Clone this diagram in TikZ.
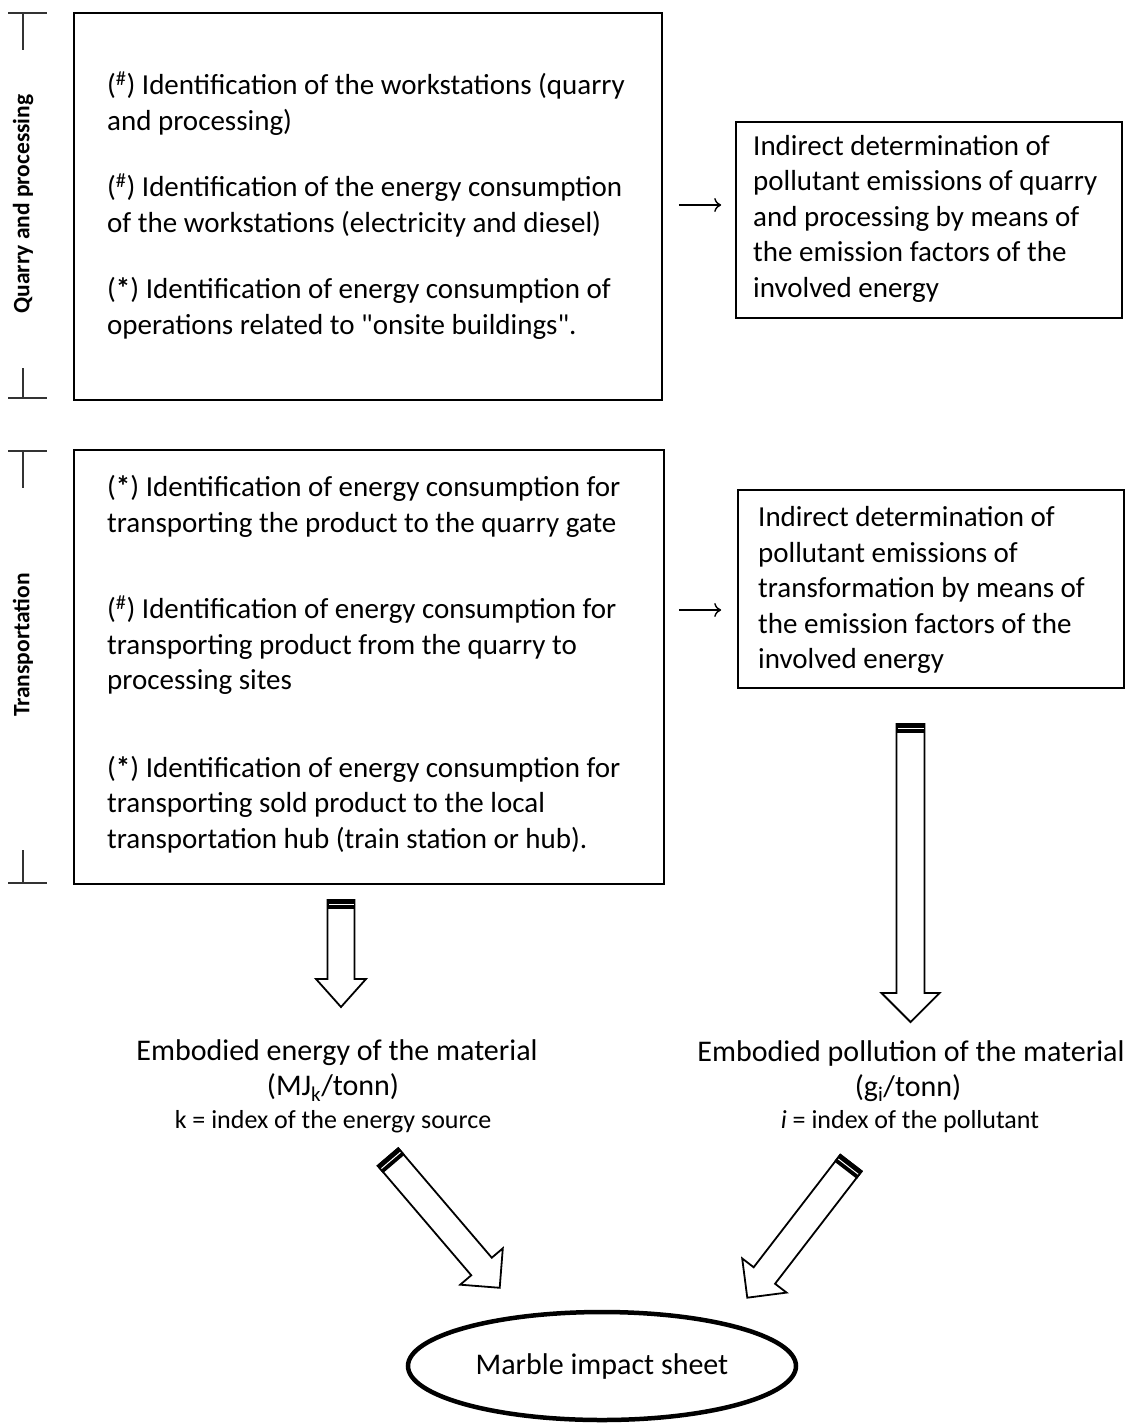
\documentclass[tikz,border=0pt]{standalone}
\usepackage{fontspec}
\setmainfont{Carlito}[Ligatures=TeXOff]
\usetikzlibrary{calc,shapes.geometric,arrows.meta}
\tikzset{
  boxline/.style={draw, line width=1.6pt, anchor=center},
  boxtext/.style={font=\fontsize{29}{35.5}\selectfont, align=left, anchor=west, inner sep=0pt},
  bracket/.style={draw=black!80, line width=1.4pt},
  sidelabel/.style={rotate=90, font=\bfseries\fontsize{23.5}{26}\selectfont},
  smallarrow/.style={line width=1.4pt, -{To[length=7pt,width=14pt]}},
  blockline/.style={draw, line width=1.8pt, fill=white, line join=miter},
  bigtext/.style={font=\fontsize{30}{34}\selectfont},
  idxtext/.style={font=\fontsize{26}{30}\selectfont}
}
\newcommand{\blockarrow}[6]{%
  \begin{scope}[shift={#1},rotate=#2]
    \draw[blockline] (0,-#4) -- ({#3-#6},-#4) -- ({#3-#6},-#5) -- (#3,0) -- ({#3-#6},#5) -- ({#3-#6},#4) -- (0,#4) -- cycle;
    \fill ({-0.9},{-#4-0.9}) rectangle (9,{#4+0.9});
    \draw[white, line width=1pt] (4.5,{-#4+1}) -- (4.5,{#4-1});
  \end{scope}}
\begin{document}
\begin{tikzpicture}[x=1pt,y=-1pt]
\useasboundingbox[fill=white] (0,0) rectangle (1131,1425);

% side brackets
\draw[bracket] (8,13) -- (47,13) (23,13) -- (23,50) (23,368) -- (23,398) (8,398) -- (47,398);
\draw[bracket] (8,451) -- (47,451) (23,451) -- (23,488) (23,850) -- (23,883) (8,883) -- (47,883);
\node[sidelabel] (lq) at (23,204) {Quarry and processing};
\node[sidelabel] (lt) at (23,645) {Transportation};

% boxes
\node[boxline, minimum width=588, minimum height=387] (b1) at (368,206.5) {};
\node[boxtext] (t1) at (107,205.5)
 {(\textsuperscript{\#}) Identification of the workstations (quarry\\
  and processing)\\[31pt]
  (\textsuperscript{\#}) Identification of the energy consumption\\
  of the workstations (electricity and diesel)\\[31pt]
  (\textbf{*}) Identification of energy consumption of\\
  operations related to "onsite buildings".};

\node[boxline, minimum width=386, minimum height=196] (b2) at (929,220) {};
\node[boxtext] (t2) at (753,218.5)
 {Indirect determination of\\
  pollutant emissions of quarry\\
  and processing by means of\\
  the emission factors of the\\
  involved energy};

\node[boxline, minimum width=590, minimum height=434] (b3) at (369,667) {};
\node[boxtext] (t3) at (107,664)
 {(\textbf{*}) Identification of energy consumption for\\
  transporting the product to the quarry gate\\[51pt]
  (\textsuperscript{\#}) Identification of energy consumption for\\
  transporting product from the quarry to\\
  processing sites\\[52pt]
  (\textbf{*}) Identification of energy consumption for\\
  transporting sold product to the local\\
  transportation hub (train station or hub).};

\node[boxline, minimum width=386, minimum height=198] (b4) at (931,589) {};
\node[boxtext] (t4) at (758,590)
 {Indirect determination of\\
  pollutant emissions of\\
  transformation by means of\\
  the emission factors of the\\
  involved energy};

% small arrows
\draw[smallarrow, shorten <=16pt, shorten >=14pt] (b1.east |- 0,205) -- (b2.west |- 0,205);
\draw[smallarrow, shorten <=14pt, shorten >=16pt] (b3.east |- 0,610) -- (b4.west |- 0,610);

% bottom texts
\node[bigtext] (e1) at (337,1053) {Embodied energy of the material};
\node[bigtext] (e2) at (333,1088) {(MJ\textsubscript{k}/tonn)};
\node[idxtext] (e3) at (333,1122) {k = index of the energy source};
\node[bigtext] (p1) at (911,1053) {Embodied pollution of the material};
\node[bigtext] (p2) at (908,1088) {(g\textsubscript{i}/tonn)};
\node[idxtext] (p3) at (910,1122) {\textit{i} = index of the pollutant};

% ellipse
\node[ellipse, draw, line width=4.5pt, minimum width=388, minimum height=108, font=\fontsize{30}{34}\selectfont] (mis) at (602,1366) {Marble impact sheet};

% block arrows
\coordinate (a1s) at (341,900);
\coordinate (a2s) at (910.5,724);
\coordinate (a3s) at (388,1157);
\coordinate (a4s) at (851,1163);
\blockarrow{(a1s)}{-90}{107}{13.5}{25}{28}
\blockarrow{(a2s)}{-90}{298}{14}{29}{29}
\blockarrow{(a3s)}{-49.5}{172}{13.5}{28}{28}
\blockarrow{(a4s)}{-127.6}{170}{13.5}{28}{28}
\end{tikzpicture}
\end{document}
